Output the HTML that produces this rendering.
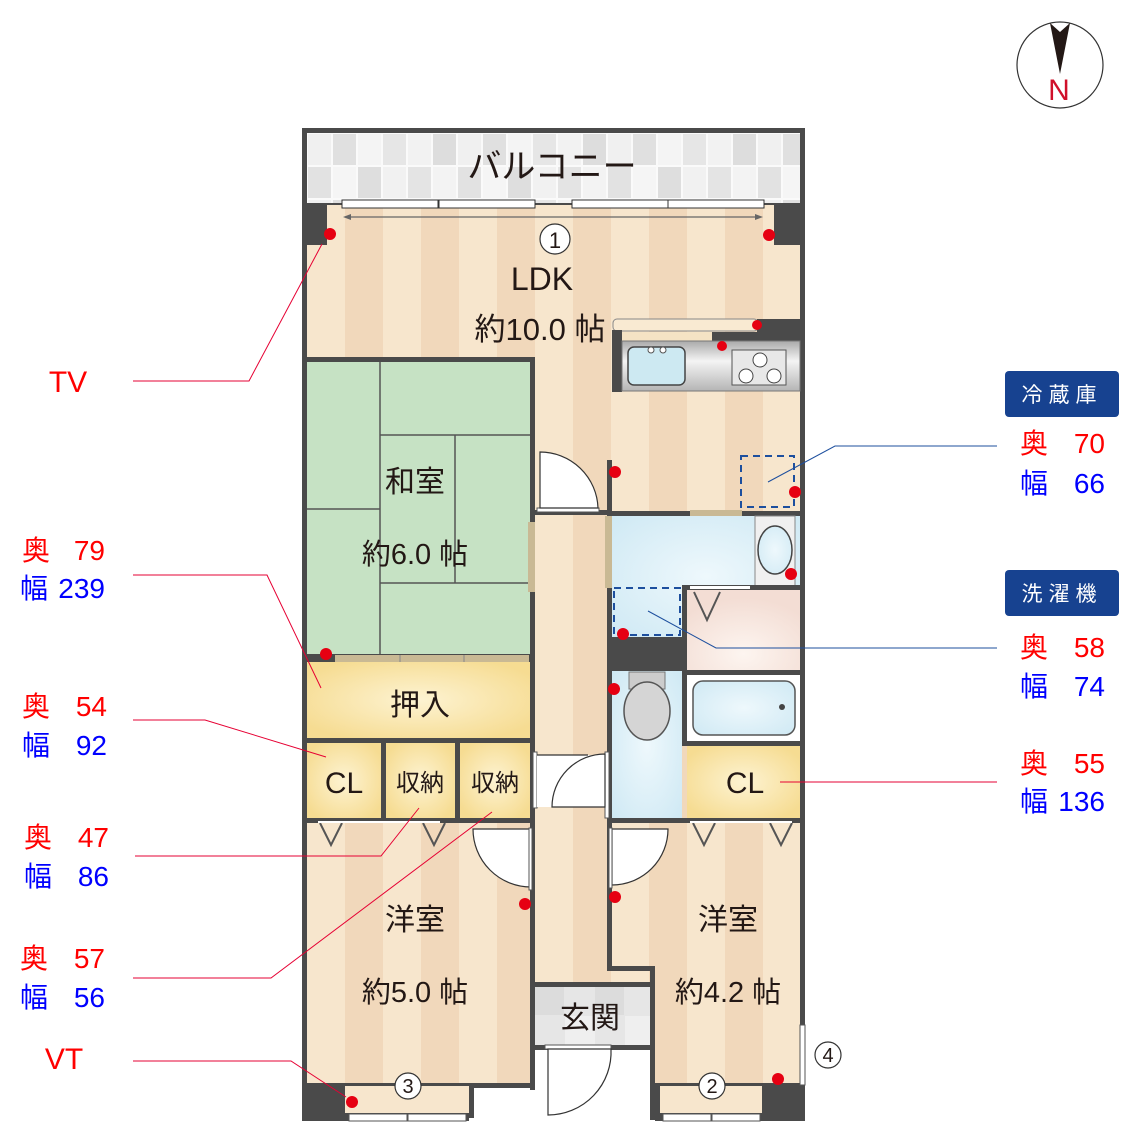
<!DOCTYPE html>
<html><head><meta charset="utf-8"><style>
html,body{margin:0;padding:0;background:#fff;}
svg{display:block;}
text{font-family:"Liberation Sans","Noto Sans CJK JP",sans-serif;}
</style></head><body>
<svg width="1125" height="1147" viewBox="0 0 1125 1147" xmlns="http://www.w3.org/2000/svg">
<defs>
<pattern id="fl" x="307" y="0" width="76" height="20" patternUnits="userSpaceOnUse">
<rect width="76" height="20" fill="#f7e6cd"/><rect x="38" width="38" height="20" fill="#f1d8bb"/>
</pattern>
<pattern id="tile" x="307" y="133" width="150" height="66" patternUnits="userSpaceOnUse">
<rect width="150" height="66" fill="#fafafa"/>
<rect x="1" y="1" width="23" height="31" fill="#f0f0f0"/><rect x="26" y="1" width="23" height="31" fill="#e0e0e0"/>
<rect x="51" y="1" width="23" height="31" fill="#f4f4f4"/><rect x="76" y="1" width="23" height="31" fill="#e6e6e6"/>
<rect x="101" y="1" width="23" height="31" fill="#f2f2f2"/><rect x="126" y="1" width="23" height="31" fill="#dddddd"/>
<rect x="1" y="34" width="23" height="31" fill="#e2e2e2"/><rect x="26" y="34" width="23" height="31" fill="#f5f5f5"/>
<rect x="51" y="34" width="23" height="31" fill="#dedede"/><rect x="76" y="34" width="23" height="31" fill="#f1f1f1"/>
<rect x="101" y="34" width="23" height="31" fill="#e4e4e4"/><rect x="126" y="34" width="23" height="31" fill="#f3f3f3"/>
</pattern>
<pattern id="gtile" x="535" y="987" width="60" height="58" patternUnits="userSpaceOnUse">
<rect width="60" height="58" fill="#e6e6e6"/><rect x="0" y="0" width="29" height="28" fill="#dcdcdc"/><rect x="30" y="29" width="30" height="29" fill="#efefef"/>
</pattern>
<radialGradient id="yel" cx="50%" cy="50%" r="60%"><stop offset="0" stop-color="#fdf3d2"/><stop offset="1" stop-color="#f6dc92"/></radialGradient>
<radialGradient id="blu" cx="50%" cy="50%" r="70%"><stop offset="0" stop-color="#eef8fc"/><stop offset="1" stop-color="#cfe9f4"/></radialGradient>
<radialGradient id="pnk" cx="50%" cy="80%" r="70%"><stop offset="0" stop-color="#fdf5f0"/><stop offset="1" stop-color="#f3ddd4"/></radialGradient>
<linearGradient id="stl" x1="0" y1="0" x2="0" y2="1"><stop offset="0" stop-color="#aaa"/><stop offset=".4" stop-color="#f4f4f4"/><stop offset="1" stop-color="#b5b5b5"/></linearGradient>
</defs>

<rect x="302" y="128" width="503" height="78" fill="#4a4a4a"/>
<rect x="307" y="133" width="493" height="70" fill="url(#tile)"/>
<text x="552" y="178" font-size="34" text-anchor="middle" fill="#231815">バルコニー</text>

<rect x="307" y="205" width="493" height="880" fill="url(#fl)"/>
<rect x="302" y="205" width="5" height="880" fill="#4a4a4a"/>
<rect x="800" y="205" width="5" height="820" fill="#4a4a4a"/>
<rect x="302" y="205" width="25" height="40" fill="#4a4a4a"/>
<rect x="774" y="205" width="31" height="40" fill="#4a4a4a"/>
<rect x="342" y="200" width="96" height="8" fill="#fff" stroke="#333" stroke-width="1"/>
<rect x="439" y="200" width="96" height="8" fill="#fff" stroke="#333" stroke-width="1"/>
<rect x="572" y="200" width="96" height="8" fill="#fff" stroke="#333" stroke-width="1"/>
<rect x="668" y="200" width="96" height="8" fill="#fff" stroke="#333" stroke-width="1"/>
<line x1="346" y1="217" x2="760" y2="217" stroke="#666" stroke-width="1.2"/>
<path d="M343 217 l8 -3 v6z M763 217 l-8 -3 v6z" fill="#666"/>
<circle cx="555" cy="239" r="15" fill="#fff" stroke="#333" stroke-width="1.2"/>
<text x="555" y="248" font-size="22" text-anchor="middle" fill="#231815">1</text>
<text x="542" y="290" font-size="32" text-anchor="middle" fill="#231815">LDK</text>
<text x="540" y="340" font-size="31" text-anchor="middle" fill="#231815">約10.0 帖</text>

<rect x="613" y="319" width="145" height="12" rx="4" fill="#f9ead2" stroke="#888" stroke-width="1"/>
<rect x="757" y="319" width="43" height="22" fill="#4a4a4a"/>
<rect x="612" y="330" width="10" height="62" fill="#4a4a4a"/>
<rect x="622" y="332" width="90" height="9" fill="#f5e3c4"/>
<rect x="712" y="332" width="45" height="9" fill="#4a4a4a"/>
<rect x="622" y="341" width="178" height="50" fill="url(#stl)" stroke="#777" stroke-width="1"/>
<rect x="628" y="347" width="57" height="38" rx="6" fill="#cde9f2" stroke="#444" stroke-width="1.5"/>
<circle cx="651" cy="350" r="3" fill="#fff" stroke="#555"/><circle cx="663" cy="350" r="3" fill="#fff" stroke="#555"/>
<rect x="732" y="350" width="54" height="35" fill="#e8e8e8" stroke="#555" stroke-width="1"/>
<circle cx="760" cy="360" r="7" fill="#fff" stroke="#444"/><circle cx="746" cy="376" r="7" fill="#fff" stroke="#444"/><circle cx="774" cy="376" r="7" fill="#fff" stroke="#444"/>

<rect x="302" y="357" width="233" height="5" fill="#4a4a4a"/>
<rect x="307" y="362" width="223" height="294" fill="#c6e2c4"/>
<g stroke="#555" stroke-width="1.5" fill="none">
<line x1="380" y1="362" x2="380" y2="656"/><line x1="380" y1="435" x2="530" y2="435"/>
<line x1="455" y1="435" x2="455" y2="583"/><line x1="307" y1="509" x2="380" y2="509"/>
<line x1="380" y1="583" x2="530" y2="583"/>
</g>
<text x="415" y="492" font-size="30" text-anchor="middle" fill="#231815">和室</text>
<text x="415" y="564" font-size="29" text-anchor="middle" fill="#231815">約6.0 帖</text>
<rect x="302" y="654" width="233" height="8" fill="#4a4a4a"/>
<rect x="335" y="655" width="194" height="7" fill="#c9b994"/>
<line x1="400" y1="655" x2="400" y2="662" stroke="#888"/><line x1="464" y1="655" x2="464" y2="662" stroke="#888"/>
<rect x="307" y="662" width="223" height="76" fill="url(#yel)"/>
<text x="420" y="715" font-size="30" text-anchor="middle" fill="#231815">押入</text>
<rect x="302" y="738" width="233" height="5" fill="#4a4a4a"/>
<rect x="307" y="743" width="74" height="75" fill="url(#yel)"/>
<rect x="381" y="743" width="5" height="75" fill="#4a4a4a"/>
<rect x="386" y="743" width="69" height="75" fill="url(#yel)"/>
<rect x="455" y="743" width="5" height="75" fill="#4a4a4a"/>
<rect x="460" y="743" width="70" height="75" fill="url(#yel)"/>
<text x="344" y="793" font-size="30" text-anchor="middle" fill="#231815">CL</text>
<text x="420" y="791" font-size="24" text-anchor="middle" fill="#231815">収納</text>
<text x="495" y="791" font-size="24" text-anchor="middle" fill="#231815">収納</text>
<rect x="302" y="818" width="233" height="5" fill="#4a4a4a"/>
<rect x="530" y="357" width="5" height="728" fill="#4a4a4a"/>
<rect x="528" y="522" width="7" height="70" fill="#c9b994"/>
<rect x="607" y="460" width="5" height="508" fill="#4a4a4a"/>
<rect x="605" y="516" width="7" height="72" fill="#c9b994"/>

<rect x="535" y="510" width="72" height="5" fill="#4a4a4a"/>
<rect x="537" y="508" width="62" height="4" fill="#fff" stroke="#555" stroke-width="1"/>
<path d="M540 508 V452 A58 58 0 0 1 598 508 Z" fill="#fff" stroke="#333" stroke-width="1.2"/>

<rect x="612" y="511" width="188" height="5" fill="#4a4a4a"/>
<rect x="690" y="510" width="52" height="7" fill="#c9b994"/>
<rect x="741" y="456" width="53" height="51" fill="none" stroke="#1d4f9e" stroke-width="2" stroke-dasharray="7 5"/>

<rect x="612" y="516" width="188" height="121" fill="url(#blu)"/>
<rect x="755" y="516" width="40" height="70" fill="#f0f0f0" stroke="#888" stroke-width="1"/>
<ellipse cx="775" cy="550" rx="17" ry="24" fill="url(#blu)" stroke="#444" stroke-width="1.5"/>
<rect x="682" y="585" width="118" height="5" fill="#4a4a4a"/>
<rect x="682" y="585" width="5" height="160" fill="#4a4a4a"/>
<rect x="690" y="586" width="60" height="3" fill="#fff"/>
<rect x="687" y="590" width="113" height="80" fill="url(#pnk)"/>
<path d="M694 592 L707 620 L720 592" fill="none" stroke="#555" stroke-width="2"/>
<rect x="614" y="588" width="66" height="47" fill="none" stroke="#1d4f9e" stroke-width="2" stroke-dasharray="7 5"/>
<rect x="612" y="637" width="75" height="34" fill="#4a4a4a"/>
<rect x="687" y="670" width="113" height="5" fill="#4a4a4a"/>
<rect x="687" y="675" width="113" height="66" fill="#fff"/>
<rect x="693" y="681" width="102" height="54" rx="10" fill="url(#blu)" stroke="#555" stroke-width="1.5"/>
<circle cx="782" cy="707" r="3" fill="#444"/>
<rect x="612" y="671" width="70" height="147" fill="url(#blu)"/>
<rect x="629" y="672" width="36" height="17" fill="#ccc" stroke="#777"/>
<ellipse cx="647" cy="711" rx="23" ry="29" fill="#d5d5d5" stroke="#555" stroke-width="1.5"/>
<rect x="682" y="741" width="118" height="5" fill="#4a4a4a"/>
<rect x="687" y="746" width="113" height="72" fill="url(#yel)"/>
<text x="745" y="793" font-size="30" text-anchor="middle" fill="#231815">CL</text>
<rect x="607" y="818" width="198" height="5" fill="#4a4a4a"/>

<rect x="533" y="752" width="4" height="56" fill="#fff" stroke="#555" stroke-width="1"/>
<rect x="605" y="752" width="4" height="66" fill="#fff" stroke="#555" stroke-width="1"/>
<rect x="537" y="755" width="68" height="52" fill="#fff"/>
<path d="M552 807 A53 53 0 0 1 605 754 V807 Z" fill="#fff" stroke="#333" stroke-width="1.2"/>
<line x1="537" y1="755" x2="588" y2="755" stroke="#333" stroke-width="1.2"/>

<g fill="none" stroke="#555" stroke-width="2">
<path d="M320 823 L331 845 L342 823"/><path d="M423 823 L434 845 L445 823"/>
<path d="M693 823 L704 845 L715 823"/><path d="M770 823 L781 845 L792 823"/>
</g>
<line x1="318" y1="822" x2="440" y2="822" stroke="#fff" stroke-width="2"/>
<line x1="690" y1="822" x2="792" y2="822" stroke="#fff" stroke-width="2"/>

<path d="M531 829 H473 A58 58 0 0 0 531 887 Z" fill="#fff" stroke="#333" stroke-width="1.2"/>
<rect x="529" y="828" width="3" height="62" fill="#fff" stroke="#555" stroke-width="1"/>
<path d="M612 829 H668 A56 56 0 0 1 612 885 Z" fill="#fff" stroke="#333" stroke-width="1.2"/>
<rect x="609" y="828" width="3" height="60" fill="#fff" stroke="#555" stroke-width="1"/>

<text x="415" y="930" font-size="30" text-anchor="middle" fill="#231815">洋室</text>
<text x="415" y="1002" font-size="29" text-anchor="middle" fill="#231815">約5.0 帖</text>
<text x="728" y="930" font-size="30" text-anchor="middle" fill="#231815">洋室</text>
<text x="728" y="1002" font-size="29" text-anchor="middle" fill="#231815">約4.2 帖</text>

<rect x="607" y="966" width="48" height="5" fill="#4a4a4a"/>
<rect x="650" y="966" width="5" height="154" fill="#4a4a4a"/>
<rect x="535" y="982" width="120" height="5" fill="#4a4a4a"/>
<rect x="535" y="987" width="115" height="58" fill="url(#gtile)"/>
<text x="590" y="1028" font-size="30" text-anchor="middle" fill="#231815">玄関</text>
<rect x="535" y="1045" width="120" height="5" fill="#4a4a4a"/>
<rect x="530" y="1045" width="5" height="45" fill="#4a4a4a"/>
<rect x="535" y="1050" width="115" height="70" fill="#fff"/>
<rect x="545" y="1045" width="66" height="4" fill="#fff" stroke="#555" stroke-width="1"/>
<path d="M548 1115 V1049 H611 A63 63 0 0 1 548 1115 Z" fill="#fff" stroke="#333" stroke-width="1.2"/>

<rect x="302" y="1083" width="233" height="5" fill="#4a4a4a"/>
<rect x="302" y="1083" width="43" height="38" fill="#4a4a4a"/>
<rect x="345" y="1086" width="124" height="28" fill="#f7e6cd"/>
<rect x="469" y="1083" width="5" height="35" fill="#4a4a4a"/>
<rect x="345" y="1113" width="124" height="8" fill="#4a4a4a"/>
<rect x="349" y="1114" width="58" height="7" fill="#fff" stroke="#555"/><rect x="408" y="1114" width="58" height="7" fill="#fff" stroke="#555"/>
<rect x="650" y="1083" width="155" height="5" fill="#4a4a4a"/>
<rect x="655" y="1083" width="5" height="38" fill="#4a4a4a"/>
<rect x="660" y="1086" width="102" height="28" fill="#f7e6cd"/>
<rect x="762" y="1083" width="43" height="38" fill="#4a4a4a"/>
<rect x="660" y="1113" width="102" height="8" fill="#4a4a4a"/>
<rect x="663" y="1114" width="48" height="7" fill="#fff" stroke="#555"/><rect x="712" y="1114" width="48" height="7" fill="#fff" stroke="#555"/>
<rect x="800" y="1025" width="5" height="60" fill="#fff" stroke="#555"/>
<g fill="#fff" stroke="#333" stroke-width="1.2">
<circle cx="408" cy="1086" r="13"/><circle cx="712" cy="1086" r="13"/><circle cx="828" cy="1055" r="13"/>
</g>
<g font-size="20" text-anchor="middle" fill="#231815">
<text x="408" y="1093">3</text><text x="712" y="1093">2</text><text x="828" y="1062">4</text>
</g>

<g fill="#e60012">
<circle cx="330" cy="234" r="6"/><circle cx="769" cy="235" r="6"/><circle cx="757" cy="325" r="5"/>
<circle cx="722" cy="346" r="5"/><circle cx="615" cy="472" r="6"/><circle cx="795" cy="492" r="6"/>
<circle cx="791" cy="574" r="6"/><circle cx="623" cy="634" r="6"/><circle cx="326" cy="654" r="6"/>
<circle cx="614" cy="689" r="6"/><circle cx="525" cy="904" r="6"/><circle cx="615" cy="897" r="6"/>
<circle cx="352" cy="1102" r="6"/><circle cx="778" cy="1079" r="6"/>
</g>

<g fill="none" stroke="#e60033" stroke-width="1">
<polyline points="133,381 249,381 322,244"/>
<polyline points="133,575 267,575 321,688"/>
<polyline points="133,720 205,720 326,757"/>
<polyline points="135,856 381,856 419,808"/>
<polyline points="133,978 271,978 492,812"/>
<polyline points="133,1061 291,1061 346,1097"/>
<line x1="997" y1="782" x2="780" y2="782"/>
</g>
<g fill="none" stroke="#1d4f9e" stroke-width="1">
<polyline points="997,446 835,446 768,482"/>
<polyline points="997,648 716,648 648,611"/>
</g>

<g font-size="28">
<text x="68" y="392" fill="#ff0000" text-anchor="middle" font-size="30">TV</text>
<text x="64" y="1069" fill="#ff0000" text-anchor="middle" font-size="30">VT</text>
<text x="22" y="560" fill="#ff0000">奥</text><text x="105" y="560" fill="#ff0000" text-anchor="end">79</text>
<text x="20" y="598" fill="#0000ff">幅</text><text x="105" y="598" fill="#0000ff" text-anchor="end">239</text>
<text x="22" y="716" fill="#ff0000">奥</text><text x="107" y="716" fill="#ff0000" text-anchor="end">54</text>
<text x="22" y="755" fill="#0000ff">幅</text><text x="107" y="755" fill="#0000ff" text-anchor="end">92</text>
<text x="24" y="847" fill="#ff0000">奥</text><text x="109" y="847" fill="#ff0000" text-anchor="end">47</text>
<text x="24" y="886" fill="#0000ff">幅</text><text x="109" y="886" fill="#0000ff" text-anchor="end">86</text>
<text x="20" y="968" fill="#ff0000">奥</text><text x="105" y="968" fill="#ff0000" text-anchor="end">57</text>
<text x="20" y="1007" fill="#0000ff">幅</text><text x="105" y="1007" fill="#0000ff" text-anchor="end">56</text>

<text x="1020" y="453" fill="#ff0000">奥</text><text x="1105" y="453" fill="#ff0000" text-anchor="end">70</text>
<text x="1020" y="493" fill="#0000ff">幅</text><text x="1105" y="493" fill="#0000ff" text-anchor="end">66</text>
<text x="1020" y="657" fill="#ff0000">奥</text><text x="1105" y="657" fill="#ff0000" text-anchor="end">58</text>
<text x="1020" y="696" fill="#0000ff">幅</text><text x="1105" y="696" fill="#0000ff" text-anchor="end">74</text>
<text x="1020" y="773" fill="#ff0000">奥</text><text x="1105" y="773" fill="#ff0000" text-anchor="end">55</text>
<text x="1020" y="811" fill="#0000ff">幅</text><text x="1105" y="811" fill="#0000ff" text-anchor="end">136</text>
</g>

<rect x="1005" y="371" width="114" height="46" rx="4" fill="#174290"/>
<text x="1062" y="402" font-size="21" fill="#fff" text-anchor="middle" letter-spacing="6">冷蔵庫</text>
<rect x="1005" y="570" width="114" height="46" rx="4" fill="#174290"/>
<text x="1062" y="601" font-size="21" fill="#fff" text-anchor="middle" letter-spacing="6">洗濯機</text>

<circle cx="1060" cy="65" r="43" fill="#fff" stroke="#333" stroke-width="1.2"/>
<path d="M1050 23 L1060 32 L1070 23 L1060 74 Z" fill="#231815"/>
<text x="1059" y="100" font-size="30" fill="#d0102a" text-anchor="middle">N</text>
</svg>
</body></html>
